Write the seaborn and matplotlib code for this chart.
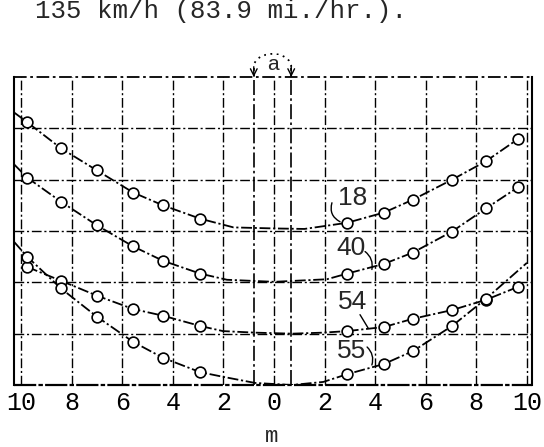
import matplotlib
matplotlib.use("Agg")
import matplotlib.pyplot as plt
from matplotlib.patches import Arc
import seaborn as sns
import pandas as pd

sns.set_theme(style="white")
plt.rcParams['font.family'] = ['DejaVu Sans']

# measuring stations (m from centre; left side negative)
stations = [-9.76, -8.42, -7.0, -5.57, -4.39, -2.92, 2.89, 4.35, 5.49, 7.04, 8.38, 9.64]

# measured values (grid units) for each run
y18 = [5.12, 4.61, 4.18, 3.75, 3.50, 3.24, 3.16, 3.36, 3.61, 4.00, 4.36, 4.79]
y40 = [4.04, 3.57, 3.11, 2.70, 2.42, 2.17, 2.17, 2.36, 2.58, 2.99, 3.44, 3.85]
y54 = [2.30, 2.03, 1.74, 1.48, 1.35, 1.15, 1.05, 1.13, 1.29, 1.46, 1.66, 1.91]
y55 = [2.50, 1.88, 1.33, 0.84, 0.53, 0.25, 0.21, 0.41, 0.66, 1.15, 1.68]

# faired curve between / beyond the stations
fx18 = [-10.28, -1.6, 0.0, 1.2]
fy18 = [5.31, 3.07, 3.05, 3.04]
fx40 = [-10.28, -1.86, 0.0, 2.09]
fy40 = [4.30, 2.05, 2.01, 2.06]
fx54 = [-2.02, -0.75, 0.71, 1.94]
fy54 = [1.05, 1.02, 1.00, 1.02]
fx55 = [-10.28, -2.02, -0.75, 0.71, 1.95, 10.0]
fy55 = [2.79, 0.16, 0.04, 0.00, 0.06, 2.38]

run_labels = ["18", "40", "54", "55"]
label_x = [3.10, 3.06, 3.10, 3.06]
label_y = [3.65, 2.66, 1.62, 0.66]

x_ticks = [-10, -8, -6, -4, -2, 0, 2, 4, 6, 8, 10]
x_ticklabels = ["10", "8", "6", "4", "2", "0", "2", "4", "6", "8", "10"]
y_grid = [1, 2, 3, 4, 5]
a_lines = [-0.8, 0.68]

fig = plt.figure(figsize=(5.44, 4.47), dpi=100)
ax = fig.add_axes([14 / 544, 1 - 385 / 447, 518 / 544, 308 / 447])
ax.set_facecolor("white")

dashdot = (0, (6, 1.5, 1.2, 1.5))
gridstyle = (0, (7, 2, 1.5, 2))

# grid
for gx in x_ticks:
    ax.axvline(gx, color="black", lw=1.0, ls=gridstyle, zorder=1)
for gy in y_grid:
    ax.axhline(gy, color="black", lw=1.0, ls=gridstyle, zorder=1)
ax.axhline(6, color="black", lw=1.3, ls=gridstyle, zorder=1, clip_on=False)
ax.axhline(0, color="black", lw=1.6, ls=(0, (10, 1, 2, 1)), zorder=1, clip_on=False)

# "a" lines
for ax_x in a_lines:
    ax.plot([ax_x, ax_x], [0, 6.18], color="black", lw=1.2,
            ls=(0, (9, 2, 1.5, 2)), clip_on=False, zorder=1)
    ax.annotate("", xy=(ax_x, 6.0), xytext=(ax_x, 6.2),
                arrowprops=dict(arrowstyle="->", lw=1.0, color="black",
                                shrinkA=0, shrinkB=0),
                annotation_clip=False)
arc = Arc(((a_lines[0] + a_lines[1]) / 2, 6.2), a_lines[1] - a_lines[0], 0.5,
          theta1=0, theta2=180, ls=(0, (1, 2.5)), lw=1.3, color="black",
          clip_on=False)
ax.add_patch(arc)
ax.text(-0.06, 6.24, "a", ha="center", va="center", fontsize=15,
        family="Liberation Sans", zorder=5,
        bbox=dict(facecolor="white", edgecolor="none", pad=0.5))

# curves
series = [(y18, fx18, fy18), (y40, fx40, fy40), (y54, fx54, fy54), (y55, fx55, fy55)]
for name, (ys, fxs, fys) in zip(run_labels, series):
    xs = stations[:len(ys)]
    pts = sorted(list(zip(xs, ys)) + list(zip(fxs, fys)))
    line_df = pd.DataFrame(pts, columns=["x", "y"])
    sns.lineplot(data=line_df, x="x", y="y", sort=False, ax=ax, color="black",
                 lw=1.3, linestyle=dashdot, zorder=3)
    mdf = pd.DataFrame({"x": xs, "y": ys})
    sns.scatterplot(data=mdf, x="x", y="y", ax=ax, marker="o", s=60,
                    facecolor="white", edgecolor="black", linewidth=1.2,
                    zorder=4, clip_on=False)

# run labels
for t, lx, ly in zip(run_labels, label_x, label_y):
    ax.text(lx, ly, t, ha="center", va="center", fontsize=19,
            family="Liberation Sans", zorder=5)

# leaders
leaders = [((2.29, 3.55), (2.61, 3.18), 0.4),
           ((3.60, 2.60), (3.87, 2.25), -0.3),
           ((3.40, 1.37), (3.72, 1.11), 0.0),
           ((3.68, 0.74), (3.87, 0.39), -0.3)]
for (p0, p1, rad) in leaders:
    ax.annotate("", xy=p1, xytext=p0,
                arrowprops=dict(arrowstyle="-", lw=1.0, color="black",
                                connectionstyle=f"arc3,rad={rad}",
                                shrinkA=0, shrinkB=0))

ax.set_xlim(-10.28, 10.2)
ax.set_ylim(0, 6)
ax.set_xticks(x_ticks)
ax.set_xticklabels(x_ticklabels, family="Liberation Mono", fontsize=18)
ax.set_yticks([])
ax.tick_params(axis="x", length=0, pad=4, colors="black")
ax.set_xlabel("")
ax.set_ylabel("")
for side in ["top", "bottom"]:
    ax.spines[side].set_visible(False)
for side in ["left", "right"]:
    ax.spines[side].set_visible(True)
    ax.spines[side].set_color("black")
    ax.spines[side].set_linewidth(1.5)

fig.text(272 / 544, 1 - 442 / 447, "m", family="Liberation Mono", fontsize=16,
         ha="center", va="baseline")
fig.text(35 / 544, 1 - 18 / 447, "135 km/h (83.9 mi./hr.).",
         family="Liberation Mono", fontsize=18.5, va="baseline", ha="left")

fig.savefig("out.png", dpi=100)
